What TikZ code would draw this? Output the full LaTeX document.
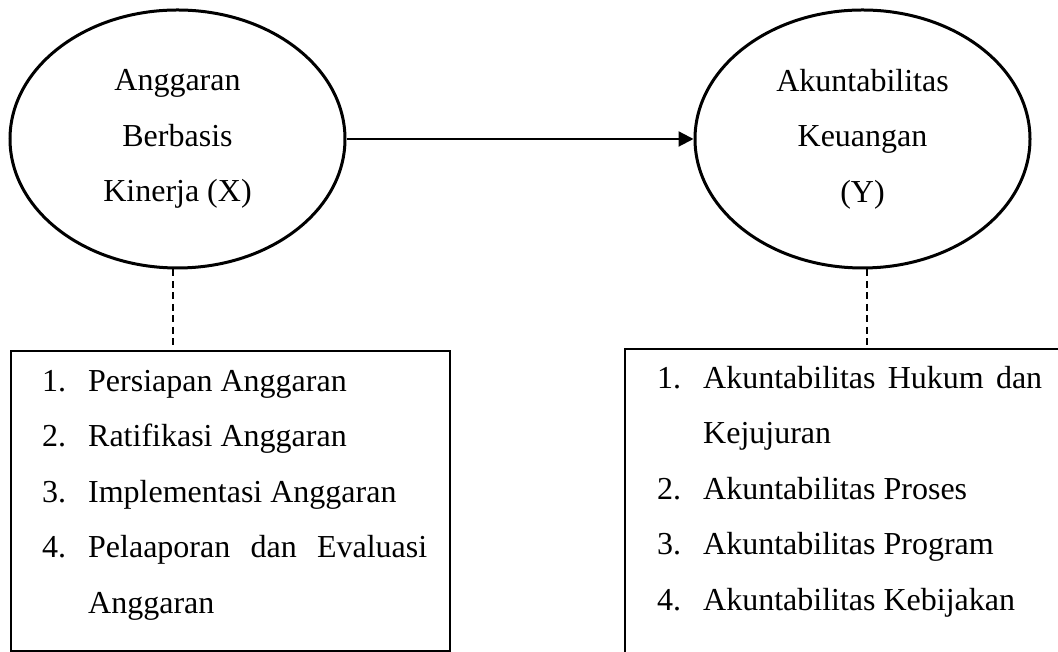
\documentclass[tikz,border=0pt]{standalone}
\usepackage{fontspec}
\setmainfont{Liberation Serif}
\usetikzlibrary{shapes.geometric,arrows.meta}
\newcommand{\butir}[2]{\hangindent=46pt\hangafter=1\noindent\makebox[46pt][l]{#1}#2\par}
\begin{document}
\begin{tikzpicture}[x=1pt,y=1pt,
    every node/.style={font=\fontsize{32}{55.5}\selectfont},
    variabel/.style={ellipse,draw,line width=3pt,minimum width=335pt,minimum height=258pt,inner sep=0pt,align=center},
    kotak/.style={draw,line width=1.8pt,inner sep=0pt,anchor=north west},
    indikator/.style={text width=385pt,align=justify,inner sep=0pt,anchor=north west},
    garis/.style={line width=1.5pt,dash pattern=on 7pt off 4.5pt}]
    \useasboundingbox (0,0) rectangle (1058,652);

    % variabel
    \node[variabel] (X) at (177.5,513) {Anggaran\\Berbasis\\Kinerja (X)};
    \node[variabel] (Y) at (862.5,513) {Akuntabilitas\\Keuangan\\(Y)};
    \draw[line width=2.2pt,-{Triangle[length=15pt,width=15pt]}] (X.east) -- (Y.west);

    % indikator
    \node[kotak,minimum width=439pt,minimum height=300pt] (kotakX) at (10,302) {};
    \node[kotak,minimum width=450pt,minimum height=330pt] (kotakY) at (624,304) {};
    \node[indikator] (daftarX) at (42,282) {
        \butir{1.}{Persiapan Anggaran}
        \butir{2.}{Ratifikasi Anggaran}
        \butir{3.}{Implementasi Anggaran}
        \butir{4.}{Pelaaporan dan Evaluasi\linebreak Anggaran}};
    \node[indikator] (daftarY) at (657,286) {
        \butir{1.}{Akuntabilitas Hukum dan\linebreak Kejujuran}
        \butir{2.}{Akuntabilitas Proses}
        \butir{3.}{Akuntabilitas Program}
        \butir{4.}{Akuntabilitas Kebijakan}};

    \draw[garis] ([xshift=-4.5pt]X.south) -- ([xshift=-4.5pt]X.south |- kotakX.north);
    \draw[garis] ([xshift=4.5pt]Y.south) -- ([xshift=4.5pt]Y.south |- kotakY.north);
\end{tikzpicture}
\end{document}
